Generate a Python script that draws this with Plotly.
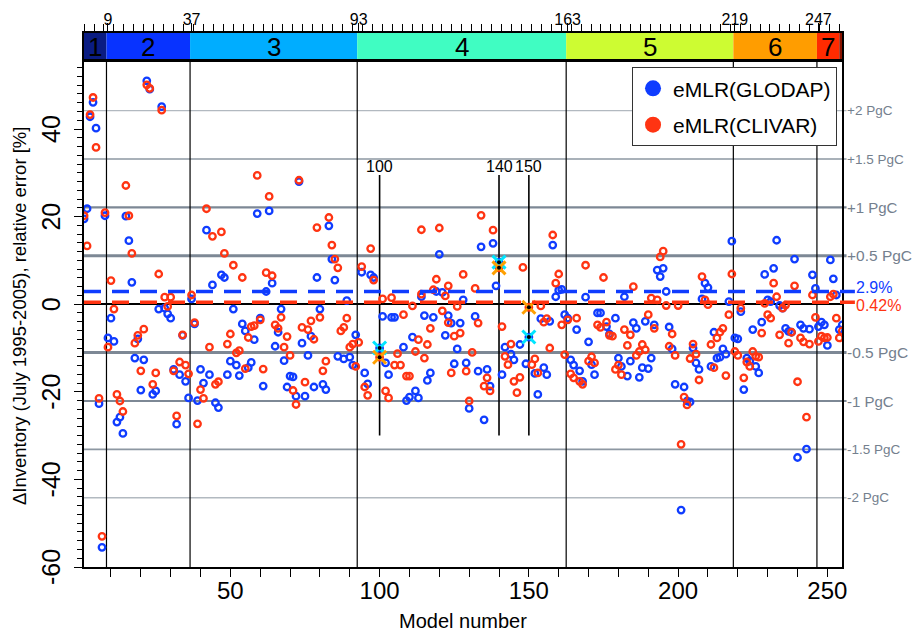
import plotly.graph_objects as go

# ---- eMLR reconstruction errors per model (percent) ----
glodap_model = [
    1, 2, 3, 4, 5, 6, 7, 8, 9, 10, 11, 12, 13, 14, 15, 16, 17, 18, 19, 20,
    21, 22, 23, 24, 25, 26, 27, 28, 29, 30, 31, 32, 33, 34, 35, 36, 37, 38, 39, 40,
    41, 42, 43, 44, 45, 46, 47, 48, 49, 50, 51, 52, 53, 54, 55, 56, 57, 58, 59, 60,
    61, 62, 63, 64, 65, 66, 67, 68, 69, 70, 71, 72, 73, 74, 75, 76, 77, 78, 79, 80,
    81, 82, 83, 84, 85, 86, 88, 89, 90, 91, 92, 94, 95, 96, 97, 98, 100,
    101, 102, 103, 104, 105, 108, 109, 110, 111, 112, 113, 114, 115, 116, 117, 118, 119, 120,
    121, 122, 123, 124, 125, 126, 127, 128, 129, 130, 132, 133, 134, 135, 136, 137, 138, 139, 140,
    141, 142, 144, 145, 147, 149, 150, 152, 153, 154, 155, 156, 157, 158, 159, 160,
    161, 162, 163, 164, 165, 166, 167, 168, 169, 170, 171, 172, 173, 174, 176, 177, 179, 180,
    181, 182, 183, 184, 185, 186, 187, 188, 189, 190, 191, 192, 193, 194, 195, 196, 197, 198, 199,
    201, 202, 203, 204, 205, 206, 207, 208, 209, 210, 211, 212, 213, 214, 215, 216, 217, 218, 219, 220,
    221, 222, 223, 224, 225, 226, 227, 228, 229, 230, 231, 232, 233, 234, 235, 236, 237, 238, 239, 240,
    241, 242, 243, 244, 245, 246, 247, 248, 249, 250, 251, 252, 253, 254, 255,
]
glodap_err = [
    19.5, 21.8, 42.8, 46.1, 40.2, -22.7, -55.5, 20.2, -7.7, -3.2, -8.5, -26.9, -25.8, -29.5, 20.1, 14.5, 5.0, -12.3, -7.9, -19.6,
    -12.7, 51.0, 49.1, -20.6, -19.8, -1.1, 45.1, -0.9, -2.2, -3.2, -14.9, -27.4, -16.1, -7.1, -17.6, -21.4, 1.2, -4.5, -22.0, -14.9,
    -18.0, 16.9, -16.1, 4.4, -22.5, -23.6, 6.7, 6.1, -16.1, -13.0, -1.1, -13.9, -16.3, -4.5, -6.1, -14.5, -13.3, -8.1, 20.7, -3.2,
    -18.7, 2.9, 21.3, 4.8, -9.6, -6.4, -1.1, -12.9, -18.9, -16.4, -16.6, -21.0, 28.0, -8.9, -21.0, -11.7, -7.3, -18.9, 6.1, -1.1,
    -18.3, -19.5, 17.9, 10.3, 5.5, -11.9, -12.5, 0.8, -12.1, -13.9, -7.0, 7.3, -15.7, -18.2, 6.7, 6.1, -10.0,
    -2.8, -13.4, -16.1, -3.0, -3.0, -9.8, -22.0, -21.2, -7.5, -19.8, -21.4, 1.7, -2.6, -17.4, -15.7, -3.0, 2.9, 11.4,
    2.7, -7.1, -2.6, -4.3, -13.6, -10.2, -4.3, 1.0, -13.4, -23.8, -2.8, -15.3, 13.1, -26.4, -14.9, -18.7, 13.9, 4.2, 9.6,
    -16.1, -9.8, -11.4, -12.7, -9.2, -13.6, -7.5, -15.8, -20.6, -3.3, -14.5, -16.1, -3.9, 13.5, 1.7, 3.2,
    3.4, -2.4, -3.2, -12.7, -13.9, -5.8, -15.2, -17.6, 1.6, -8.6, -13.8, -16.1, -2.0, -2.0, -5.1, -6.8, -3.2, -12.3,
    -14.2, 1.7, -16.4, -13.0, -4.2, -5.5, -16.7, -14.5, -3.9, -14.7, -12.3, -4.7, 7.8, 6.3, 8.2, 2.9, -5.2, -10.2, -18.3,
    -47.0, -18.9, -22.1, -22.3, -10.0, -13.4, -14.9, 1.2, 4.8, 3.8, -14.2, -6.4, -12.3, -12.1, -10.2, -11.4, 0.6, 14.4, -7.7, -7.9,
    -1.7, -19.5, -12.3, -13.0, -5.8, -14.2, -15.7, -4.1, 6.8, 1.0, 0.6, 8.2, 14.6, -0.3, -0.9, -5.5, -6.2, -6.4, 10.3, -35.0,
    -4.7, -5.5, -33.1, -5.7, 6.7, 3.6, -5.1, -4.1, -4.7, -9.4, 10.1, 5.8, 2.1, -5.8, -4.7,
]

clivar_model = [
    1, 2, 3, 4, 5, 6, 7, 8, 9, 10, 11, 12, 13, 14, 15, 16, 17, 18, 19, 20,
    21, 22, 23, 24, 25, 26, 27, 28, 29, 30, 31, 32, 33, 34, 35, 36, 37, 38, 39, 40,
    41, 42, 43, 44, 45, 46, 47, 48, 49, 50, 51, 52, 53, 54, 55, 56, 57, 58, 59, 60,
    61, 62, 63, 64, 65, 66, 67, 68, 69, 70, 71, 72, 73, 74, 75, 76, 77, 78, 79, 80,
    81, 82, 83, 84, 85, 86, 87, 88, 89, 90, 91, 92, 93, 94, 95, 96, 97, 98, 100,
    101, 102, 103, 104, 105, 106, 107, 108, 109, 110, 111, 112, 113, 114, 114, 115, 116, 117, 118, 119, 120,
    121, 122, 123, 123, 124, 125, 126, 127, 128, 129, 130, 131, 132, 133, 134, 135, 136, 137, 138, 140,
    141, 142, 143, 144, 145, 146, 147, 148, 150, 151, 152, 153, 154, 155, 156, 157, 158, 159, 160,
    161, 162, 163, 164, 165, 166, 167, 168, 169, 170, 171, 172, 173, 174, 175, 176, 177, 178, 179, 180,
    181, 182, 183, 184, 185, 186, 187, 188, 189, 190, 191, 192, 193, 194, 195, 196, 197, 198, 199, 200,
    201, 202, 203, 204, 205, 206, 207, 208, 209, 210, 211, 212, 213, 214, 215, 216, 217, 218, 219, 220,
    221, 222, 223, 224, 225, 226, 227, 228, 229, 230, 231, 232, 233, 234, 235, 236, 237, 238, 239, 240,
    241, 242, 243, 244, 245, 246, 247, 248, 249, 250, 251, 252, 253, 254, 255,
]
clivar_err = [
    20.2, 13.3, 43.3, 47.2, 35.8, -21.5, -53.0, 20.9, -9.8, 5.4, -1.1, -20.6, -22.1, -24.5, 27.1, 20.2, 11.6, -8.9, -7.1, -15.2,
    -5.7, 50.1, 49.3, -18.3, -15.7, 6.9, 44.3, 1.6, -0.5, 1.6, -15.2, -25.5, -13.2, -7.0, -13.9, -15.9, 2.1, -4.2, -27.3, -19.5,
    -21.5, 21.8, -9.8, 15.5, -18.3, -17.7, 16.5, 11.6, -9.1, -6.8, 8.9, -11.1, -10.6, 6.1, -14.7, -7.6, -5.1, -4.9, 29.4, -3.6,
    -14.8, 7.2, 24.6, 6.5, -4.7, -5.5, -3.0, -9.8, -7.4, -11.7, -19.7, -22.9, 28.3, -5.3, -17.8, -5.8, -3.8, -8.0, 17.5, -3.0,
    -15.2, -13.0, 19.8, 13.5, 10.3, 8.3, -6.1, -5.3, -3.2, -9.8, -9.1, -14.2, -8.7, 8.6, -18.9, -20.8, 12.7, 5.5, -12.1,
    1.2, -19.8, -21.4, 1.5, -13.9, -11.3, -13.9, -2.4, -16.4, -16.4, -0.4, -10.8, -8.1, 2.3, 17.0, -12.3, -9.2, -5.5, 3.3, 5.7, 17.4,
    -1.5, 1.9, -4.2, 4.2, -15.7, -7.3, -0.5, -6.6, 6.8, -15.3, -22.1, -11.0, 3.6, -4.3, 20.3, -18.7, -16.8, -19.8, 16.9, 8.3,
    -5.1, -11.9, -13.8, -9.1, -17.6, -20.2, -16.7, 8.4, -0.7, -13.8, -12.5, -15.7, -0.4, -4.1, -3.3, -10.0, 15.8, 4.8, 6.9,
    -4.7, -11.5, -3.6, -15.9, -16.8, -3.2, -17.6, -18.3, 8.9, -13.0, -12.0, -13.4, -4.7, -5.3, 6.1, -4.1, -7.1, -7.3, -14.9, -13.9,
    -16.1, -5.8, -9.4, -7.0, 4.0, -11.7, -10.8, -9.2, -10.4, -2.4, 1.4, -5.5, 1.0, 10.8, 12.1, -0.3, -9.6, -6.8, -11.7, -0.3,
    -32.0, -21.2, -23.0, -12.4, -9.1, -11.4, -17.3, 6.3, 1.0, -0.1, -9.2, -14.5, -7.7, -6.4, -5.5, -16.3, -2.4, 6.9, -10.8, -11.7,
    -0.9, -16.8, -13.2, -14.2, -10.8, -11.9, -12.1, -6.6, 0.2, -2.4, -3.2, 4.8, 1.7, -7.0, -0.9, -0.2, -8.9, -6.4, 4.2, -17.7,
    -7.7, -8.6, -25.8, -9.1, 2.1, -3.0, -8.5, -7.3, -7.7, -7.6, 1.7, 2.3, -3.2, -7.7, -6.1,
]

# model groups shown in the colour strip
group_edges = [0.97, 8.5, 36.5, 92.5, 162.5, 218.5, 246.5, 254.0, 254.9]
group_names = ["1", "2", "3", "4", "5", "6", "7", ""]
group_colors = ["#0a1c82", "#0833ff", "#00adff", "#40fdc2", "#cdfc32", "#ff9d00", "#ff2b00", "#8a1400"]
group_first_model = [9, 37, 93, 163, 219, 247]

highlight_models = [100, 140, 150]
mean_glodap = 2.9
mean_clivar = 0.42

y_tickvals = [-60, -40, -20, 0, 20, 40]
pgc_levels = [2, 1.5, 1, 0.5, -0.5, -1, -1.5, -2]
pct_per_pgc = 22.1

BLUE = "#0f3cff"
RED = "#ff3412"
GRAY = "#74808e"
NARROW = "Liberation Sans Narrow, Arial Narrow, Liberation Sans, Arial, sans-serif"
SANS = "Liberation Sans, Arial, sans-serif"

XR = [0.97, 254.9]
main_top = 505 / 534
strip_bottom = 508 / 534

fig = go.Figure()

# open-circle scatter for both reconstructions
fig.add_trace(go.Scatter(
    x=glodap_model, y=glodap_err, mode="markers", showlegend=False,
    marker=dict(symbol="circle-open", size=6.5, color=BLUE, line=dict(width=2.3, color=BLUE)),
    xaxis="x", yaxis="y"))
fig.add_trace(go.Scatter(
    x=clivar_model, y=clivar_err, mode="markers", showlegend=False,
    marker=dict(symbol="circle-open", size=6.5, color=RED, line=dict(width=2.3, color=RED)),
    xaxis="x", yaxis="y"))

# highlighted models: crosses plus a black centre dot
hl_g = [glodap_err[glodap_model.index(m)] for m in highlight_models]
hl_c = [clivar_err[clivar_model.index(m)] for m in highlight_models]
fig.add_trace(go.Scatter(
    x=highlight_models, y=hl_g, mode="markers", showlegend=False,
    marker=dict(symbol="x-thin", size=13, line=dict(width=3, color="#00e6ff"))))
fig.add_trace(go.Scatter(
    x=highlight_models, y=hl_c, mode="markers", showlegend=False,
    marker=dict(symbol="x-thin", size=13, line=dict(width=3, color="#ffa000"))))
fig.add_trace(go.Scatter(
    x=highlight_models + highlight_models, y=hl_g + hl_c, mode="markers", showlegend=False,
    marker=dict(symbol="circle", size=4, color="black")))

# legend entries (filled symbols)
fig.add_trace(go.Scatter(x=[None], y=[None], mode="markers", name="eMLR(GLODAP)",
                         legendgroup="g", marker=dict(symbol="circle", size=16, color=BLUE)))
fig.add_trace(go.Scatter(x=[None], y=[None], mode="markers", name="eMLR(CLIVAR)",
                         legendgroup="c", marker=dict(symbol="circle", size=16, color=RED)))

shapes = []
annotations = []

# PgC reference lines and their labels
for lev in pgc_levels:
    a = abs(lev)
    width = {0.5: 3.0, 1: 2.2, 1.5: 1.6, 2: 1.4}[a]
    color = {0.5: "#7d8895", 1: "#7d8895", 1.5: "#8d97a2", 2: "#b2b9c0"}[a]
    fsize = {0.5: 15.5, 1: 15, 1.5: 13.5, 2: 13.5}[a]
    yv = lev * pct_per_pgc
    shapes.append(dict(type="line", xref="paper", yref="y", x0=0, x1=1.006, y0=yv, y1=yv,
                       line=dict(color=color, width=width), layer="below"))
    txt = ("+" if lev > 0 else "-") + ("%g" % a) + " PgC"
    annotations.append(dict(xref="paper", yref="y", x=1.004, y=yv, text=txt, showarrow=False,
                            xanchor="left", yanchor="middle",
                            font=dict(family=SANS, size=fsize, color=GRAY)))

# group boundaries
for e in group_edges[1:-2]:
    shapes.append(dict(type="line", xref="x", yref="y domain", x0=e, x1=e, y0=0, y1=1,
                       line=dict(color="black", width=1.2), layer="below"))

# highlighted model markers
for m in highlight_models:
    shapes.append(dict(type="line", xref="x", yref="y", x0=m, x1=m, y0=-30, y1=29.5,
                       line=dict(color="black", width=1.6), layer="below"))
    annotations.append(dict(xref="x", yref="y", x=m, y=29.0, text=str(m), showarrow=False,
                            xanchor="center", yanchor="bottom",
                            font=dict(family=SANS, size=16, color="black")))

# mean error lines
for val, col, txt in [(mean_glodap, BLUE, "2.9%"), (mean_clivar, RED, "0.42%")]:
    shapes.append(dict(type="line", xref="paper", yref="y", x0=0, x1=1.017, y0=val, y1=val,
                       line=dict(color=col, width=3.5, dash="17px,11px")))
    annotations.append(dict(xref="paper", yref="y", x=1.016, y=val + (0.9 if val > 1 else -0.6),
                            text=txt, showarrow=False, xanchor="left", yanchor="middle",
                            font=dict(family=SANS, size=16, color=col)))

# colour strip of model groups
for i in range(len(group_colors)):
    x0, x1 = group_edges[i], group_edges[i + 1]
    shapes.append(dict(type="rect", xref="x2", yref="y2 domain", x0=x0, x1=x1, y0=0, y1=1,
                       fillcolor=group_colors[i], line=dict(width=0), layer="below"))
    if group_names[i]:
        annotations.append(dict(xref="x2", yref="y2 domain", x=(x0 + x1) / 2, y=0.45,
                                text=group_names[i], showarrow=False,
                                font=dict(family=NARROW, size=26, color="black")))

# rotated y tick labels, centred on their ticks
for v in y_tickvals:
    annotations.append(dict(xref="paper", yref="y", x=-33 / 758, y=v, text=str(v),
                            textangle=-90, showarrow=False, xanchor="center", yanchor="middle",
                            font=dict(family=NARROW, size=25, color="black")))

# axis titles
annotations.append(dict(xref="paper", yref="paper", x=0.5, y=-54 / 534, text="Model number",
                        showarrow=False, xanchor="center", yanchor="middle",
                        font=dict(family=NARROW, size=20, color="black")))
annotations.append(dict(xref="paper", yref="paper", x=-65 / 758, y=(567 - 316) / 534,
                        text="\u0394Inventory (July 1995-2005), relative error [%]",
                        textangle=-90, showarrow=False, xanchor="center", yanchor="middle",
                        font=dict(family=SANS, size=18.5, color="black")))

fig.update_layout(
    width=915, height=633,
    margin=dict(l=84, r=73, t=33, b=66, autoexpand=False),
    paper_bgcolor="white", plot_bgcolor="white",
    shapes=shapes, annotations=annotations,
    xaxis=dict(
        domain=[0, 1], range=XR, anchor="y", automargin=False,
        tickmode="array", tickvals=[50, 100, 150, 200, 250],
        ticks="outside", ticklen=8, tickwidth=1, tickcolor="black",
        minor=dict(tickmode="array", tickvals=[10, 20, 30, 40, 60, 70, 80, 90, 110, 120, 130, 140,
                                               160, 170, 180, 190, 210, 220, 230, 240],
                   ticks="outside", ticklen=8, tickcolor="black", tickwidth=1),
        showline=True, linecolor="black", linewidth=1.5, mirror=True,
        showgrid=False, zeroline=False, ticklabelstandoff=-7,
        tickfont=dict(family=NARROW, size=24, color="black"),
    ),
    yaxis=dict(
        domain=[0, main_top], range=[-60, 55.3], anchor="x", automargin=False,
        tickmode="array", tickvals=y_tickvals, showticklabels=False,
        ticks="outside", ticklen=8, tickwidth=1, tickcolor="black",
        minor=dict(dtick=2, ticks="outside", ticklen=5, tickcolor="black", tickwidth=1),
        showline=True, linecolor="black", linewidth=1.5, mirror=True,
        showgrid=False,
        zeroline=True, zerolinecolor="black", zerolinewidth=1.6,
    ),
    xaxis2=dict(
        domain=[0, 1], range=XR, anchor="y2", side="top", automargin=False,
        tickmode="array", tickvals=group_first_model,
        ticks="outside", ticklen=8, tickwidth=1, tickcolor="black",
        minor=dict(dtick=3.33, tick0=1, ticks="outside", ticklen=7, tickcolor="black", tickwidth=1),
        showline=True, linecolor="black", linewidth=2, mirror=True,
        showgrid=False, zeroline=False, ticklabelstandoff=-8,
        tickfont=dict(family=SANS, size=16, color="black"),
    ),
    yaxis2=dict(
        domain=[strip_bottom, 1], range=[0, 1], anchor="x2", automargin=False,
        showticklabels=False, ticks="", showgrid=False, zeroline=False,
        showline=True, linecolor="black", linewidth=2, mirror=True,
    ),
    legend=dict(
        x=0.723, y=0.936, xanchor="left", yanchor="top",
        bgcolor="white", bordercolor="#333333", borderwidth=1,
        font=dict(family=SANS, size=21, color="black"),
        itemsizing="trace", traceorder="grouped", tracegroupgap=6,
    ),
)

fig.write_html("out.html")
